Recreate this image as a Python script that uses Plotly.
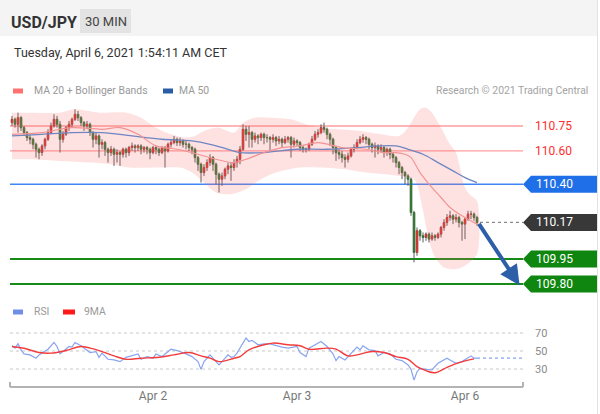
import plotly.graph_objects as go

W, H = 600, 414

# ---------------- data ----------------
first_open = 110.77
closes = [
    110.79, 110.76, 110.80, 110.74, 110.71, 110.68, 110.67, 110.64, 110.61, 110.59,
    110.63, 110.67, 110.71, 110.75, 110.79, 110.76, 110.67, 110.70, 110.74, 110.76,
    110.79, 110.82, 110.80, 110.77, 110.75, 110.76, 110.71, 110.67, 110.69, 110.64,
    110.65, 110.61, 110.59, 110.61, 110.58, 110.59, 110.58, 110.61, 110.59, 110.62,
    110.63, 110.62, 110.63, 110.61, 110.62, 110.61, 110.59, 110.62, 110.61, 110.59,
    110.62, 110.60, 110.64, 110.65, 110.67, 110.65, 110.66, 110.64, 110.64, 110.62,
    110.61, 110.56, 110.52, 110.47, 110.50, 110.53, 110.56, 110.52, 110.46, 110.43,
    110.45, 110.49, 110.51, 110.50, 110.53, 110.55, 110.61, 110.73, 110.70, 110.71,
    110.67, 110.69, 110.68, 110.70, 110.68, 110.68, 110.67, 110.68, 110.66, 110.67,
    110.65, 110.67, 110.68, 110.64, 110.66, 110.65, 110.62, 110.61, 110.61, 110.64,
    110.67, 110.70, 110.71, 110.74, 110.73, 110.70, 110.67, 110.62, 110.59, 110.58,
    110.56, 110.55, 110.57, 110.61, 110.62, 110.65, 110.67, 110.68, 110.67, 110.64,
    110.62, 110.63, 110.61, 110.62, 110.59, 110.61, 110.58, 110.56, 110.53, 110.50,
    110.47, 110.45, 110.43, 110.23, 109.99, 110.12, 110.09, 110.08, 110.10, 110.07,
    110.09, 110.08, 110.10, 110.14, 110.17, 110.20, 110.21, 110.19, 110.20, 110.17,
    110.16, 110.19, 110.22, 110.22, 110.20, 110.17,
]
highs = [
    110.81, 110.80, 110.83, 110.81, 110.75, 110.72, 110.70, 110.68, 110.65, 110.62,
    110.64, 110.68, 110.73, 110.77, 110.82, 110.81, 110.78, 110.72, 110.75, 110.78,
    110.80, 110.85, 110.84, 110.81, 110.78, 110.78, 110.77, 110.72, 110.71, 110.70,
    110.67, 110.66, 110.62, 110.63, 110.62, 110.61, 110.60, 110.62, 110.62, 110.63,
    110.65, 110.64, 110.64, 110.64, 110.63, 110.63, 110.62, 110.63, 110.63, 110.62,
    110.63, 110.63, 110.65, 110.67, 110.69, 110.68, 110.68, 110.67, 110.66, 110.65,
    110.63, 110.62, 110.57, 110.53, 110.52, 110.55, 110.58, 110.57, 110.53, 110.47,
    110.47, 110.50, 110.53, 110.53, 110.55, 110.57, 110.63, 110.76, 110.75, 110.75,
    110.72, 110.71, 110.70, 110.71, 110.71, 110.70, 110.69, 110.70, 110.69, 110.69,
    110.68, 110.69, 110.69, 110.69, 110.68, 110.67, 110.66, 110.63, 110.62, 110.65,
    110.69, 110.72, 110.73, 110.76, 110.77, 110.74, 110.71, 110.68, 110.63, 110.61,
    110.60, 110.58, 110.59, 110.62, 110.64, 110.67, 110.69, 110.70, 110.69, 110.68,
    110.65, 110.65, 110.64, 110.64, 110.63, 110.62, 110.62, 110.59, 110.57, 110.54,
    110.51, 110.48, 110.46, 110.44, 110.24, 110.14, 110.13, 110.11, 110.11, 110.11,
    110.11, 110.10, 110.11, 110.15, 110.19, 110.22, 110.24, 110.22, 110.22, 110.21,
    110.18, 110.20, 110.24, 110.24, 110.23, 110.21,
]
lows = [
    110.75, 110.74, 110.71, 110.72, 110.69, 110.66, 110.64, 110.61, 110.56, 110.55,
    110.57, 110.61, 110.66, 110.70, 110.74, 110.74, 110.59, 110.65, 110.69, 110.72,
    110.74, 110.78, 110.78, 110.75, 110.72, 110.73, 110.69, 110.62, 110.64, 110.56,
    110.61, 110.57, 110.53, 110.57, 110.51, 110.53, 110.51, 110.56, 110.56, 110.57,
    110.60, 110.59, 110.60, 110.58, 110.59, 110.58, 110.55, 110.58, 110.58, 110.57,
    110.58, 110.50, 110.59, 110.62, 110.64, 110.63, 110.63, 110.62, 110.61, 110.60,
    110.58, 110.53, 110.48, 110.41, 110.45, 110.48, 110.51, 110.48, 110.40, 110.35,
    110.39, 110.43, 110.46, 110.42, 110.48, 110.50, 110.52, 110.60, 110.66, 110.62,
    110.62, 110.65, 110.64, 110.66, 110.64, 110.65, 110.60, 110.65, 110.63, 110.64,
    110.62, 110.64, 110.65, 110.56, 110.62, 110.63, 110.60, 110.59, 110.59, 110.60,
    110.63, 110.66, 110.68, 110.70, 110.71, 110.67, 110.63, 110.58, 110.54, 110.55,
    110.53, 110.50, 110.53, 110.56, 110.59, 110.61, 110.64, 110.65, 110.64, 110.61,
    110.59, 110.56, 110.58, 110.59, 110.56, 110.57, 110.55, 110.53, 110.50, 110.46,
    110.43, 110.40, 110.39, 110.21, 109.93, 109.97, 110.06, 110.05, 110.06, 110.05,
    110.06, 110.06, 110.07, 110.08, 110.12, 110.15, 110.18, 110.16, 110.17, 110.14,
    110.06, 110.07, 110.18, 110.19, 110.18, 110.15,
]

band_upper_idx = [0, 6, 16, 21, 29, 38, 43, 48, 53, 58, 61, 64, 69, 74, 77, 81, 86, 93,
                  98, 103, 109, 116, 123, 129, 132, 134, 136, 138, 140, 143, 146, 148,
                  151, 153, 155]
band_upper = [110.83, 110.83, 110.83, 110.85, 110.83, 110.83, 110.80, 110.74, 110.70,
              110.68, 110.69, 110.72, 110.74, 110.71, 110.77, 110.80, 110.80, 110.79,
              110.76, 110.74, 110.73, 110.72, 110.70, 110.69, 110.74, 110.80, 110.85,
              110.86, 110.83, 110.74, 110.64, 110.59, 110.38, 110.33, 110.30]
band_lower_idx = [0, 6, 16, 26, 33, 39, 49, 56, 60, 64, 68, 73, 78, 83, 88, 96, 103, 111,
                  118, 124, 129, 132, 134, 135, 137, 139, 141, 144, 148, 151, 155]
band_lower = [110.55, 110.55, 110.54, 110.53, 110.52, 110.50, 110.50, 110.50, 110.47,
              110.41, 110.35, 110.34, 110.37, 110.43, 110.47, 110.50, 110.50, 110.49,
              110.47, 110.46, 110.45, 110.44, 110.43, 110.40, 110.24, 110.06, 109.96,
              109.90, 109.89, 109.91, 109.98]

ma20_idx = [0, 10, 20, 30, 36, 42, 48, 55, 62, 68, 74, 78, 84, 90, 96, 102, 110, 118,
            124, 128, 131, 133, 136, 140, 143, 146, 150, 155]
ma20 = [110.70, 110.71, 110.74, 110.73, 110.74, 110.70, 110.63, 110.61, 110.58, 110.55,
        110.53, 110.55, 110.59, 110.62, 110.63, 110.65, 110.62, 110.61, 110.59, 110.59,
        110.58, 110.56, 110.47, 110.38, 110.32, 110.26, 110.21, 110.16]

ma50_idx = [0, 10, 20, 30, 40, 50, 60, 66, 72, 76, 84, 95, 105, 115, 122, 128, 132, 137,
            142, 147, 151, 155]
ma50 = [110.69, 110.70, 110.71, 110.71, 110.69, 110.67, 110.66, 110.64, 110.61, 110.59,
        110.59, 110.61, 110.61, 110.62, 110.63, 110.63, 110.61, 110.58, 110.53, 110.48,
        110.44, 110.41]

rsi_idx = [0, 1, 2, 3, 4, 6, 8, 9, 12, 14, 15, 16, 17, 19, 20, 21, 23, 24, 26, 28, 29,
           30, 32, 34, 36, 38, 40, 42, 43, 45, 47, 48, 50, 52, 53, 55, 57, 58, 60, 62,
           63, 64, 66, 68, 69, 70, 72, 73, 74, 75, 76, 78, 79, 80, 82, 84, 86, 88, 90,
           92, 95, 96, 97, 98, 99, 101, 103, 105, 107, 108, 109, 111, 113, 115, 116, 117,
           119, 121, 122, 124, 126, 128, 130, 132, 133, 134, 135, 136, 138, 140, 142, 144,
           145, 146, 148, 150, 152, 153, 154, 155]
rsi = [55.8, 53.2, 58.0, 51.3, 46.8, 45.7, 42.0, 45.7, 52.0, 59.5, 55.0, 46.8, 49.4,
       55.0, 54.3, 59.5, 55.8, 53.2, 48.3, 49.4, 43.0, 47.6, 40.8, 40.1, 38.2, 43.0, 44.6,
       46.8, 40.8, 43.8, 42.0, 46.8, 43.8, 49.4, 52.0, 50.5, 48.3, 46.8, 43.8, 38.2, 29.6,
       38.2, 45.7, 38.2, 34.5, 38.2, 45.7, 43.0, 43.8, 47.6, 53.2, 64.4, 60.6, 61.8, 56.9,
       58.0, 58.0, 55.8, 54.3, 53.2, 55.0, 48.3, 45.7, 43.8, 53.2, 56.9, 60.6, 55.0, 46.8,
       39.3, 43.8, 40.1, 46.8, 54.3, 51.3, 55.8, 51.3, 50.5, 44.6, 48.3, 46.8, 40.8, 39.3,
       34.5, 29.6, 17.6, 27.0, 30.7, 29.6, 28.9, 36.3, 40.1, 42.0, 40.1, 36.3, 38.2, 43.0,
       44.6, 42.0, 42.0]

rsi_ma_idx = [0, 4, 9, 13, 18, 23, 26, 29, 34, 38, 43, 49, 54, 59, 63, 66, 69, 74, 76,
              79, 84, 87, 92, 96, 99, 105, 108, 112, 115, 120, 124, 128, 132, 135, 138,
              141, 145, 149, 154]
rsi_ma = [55.0, 53.0, 48.3, 47.6, 50.5, 55.0, 53.2, 50.5, 44.6, 40.8, 42.0, 43.0, 45.7,
          48.3, 44.6, 42.0, 38.2, 42.0, 43.8, 51.3, 56.9, 58.8, 56.9, 55.8, 52.0, 53.2,
          52.0, 44.6, 45.7, 49.4, 48.3, 43.8, 40.8, 32.6, 28.1, 25.9, 31.9, 37.1, 41.2]

resistance_levels = [110.75, 110.60]
pivot_level = 110.40
support_levels = [109.95, 109.80]
last_price = 110.17
rsi_levels = [70, 50, 30]
tick_idx = [47, 95, 151]
tick_text = ["Apr 2", "Apr 3", "Apr 6"]

# ---------------- helpers ----------------
def px(x):
    return x / W


def py(y):
    return 1 - y / H


idx = list(range(len(closes)))
opens = [first_open] + closes[:-1]
body_hi = [max(o, c) for o, c in zip(opens, closes)]
body_lo = [min(o, c) for o, c in zip(opens, closes)]

X_RANGE = [-0.67, 170.33]
Y_RANGE = [109.734, 110.876]
RSI_RANGE = [10, 84.44]
FONT = "Roboto"

fig = go.Figure()

# Bollinger band (closed polygon)
fig.add_trace(go.Scatter(
    x=band_upper_idx + band_lower_idx[::-1],
    y=band_upper + band_lower[::-1],
    fill="toself", fillcolor="rgba(250,110,110,0.2)",
    line=dict(width=0, shape="spline", smoothing=0.8),
    mode="lines", hoverinfo="skip", showlegend=False))

fig.add_trace(go.Scatter(x=ma50_idx, y=ma50, mode="lines",
                         line=dict(color="#6f86c2", width=1.3, shape="spline"),
                         showlegend=False))
fig.add_trace(go.Scatter(x=ma20_idx, y=ma20, mode="lines",
                         line=dict(color="#f29393", width=1.2, shape="spline"),
                         showlegend=False))

# wicks
fig.add_trace(go.Candlestick(
    x=idx, open=opens, high=highs, low=lows, close=closes,
    increasing=dict(line=dict(color="#5a5a5a", width=1), fillcolor="#5a5a5a"),
    decreasing=dict(line=dict(color="#5a5a5a", width=1), fillcolor="#5a5a5a"),
    whiskerwidth=0, showlegend=False, hoverinfo="skip"))
# bodies
fig.add_trace(go.Candlestick(
    x=idx, open=opens, high=body_hi, low=body_lo, close=closes,
    increasing=dict(line=dict(color="#e0302c", width=0.5), fillcolor="#e0302c"),
    decreasing=dict(line=dict(color="#2f7d2f", width=0.5), fillcolor="#2f7d2f"),
    whiskerwidth=0, showlegend=False))

# RSI panel
fig.add_trace(go.Scatter(x=rsi_idx, y=rsi, mode="lines", xaxis="x2", yaxis="y2",
                         line=dict(color="#88a4f0", width=1.2), showlegend=False))
fig.add_trace(go.Scatter(x=rsi_ma_idx, y=rsi_ma, mode="lines", xaxis="x2", yaxis="y2",
                         line=dict(color="#f23c3c", width=1.4, shape="spline"),
                         showlegend=False))

shapes = []
annotations = []

# header
shapes.append(dict(type="rect", xref="paper", yref="paper", x0=0, x1=px(597),
                   y0=py(36), y1=1, fillcolor="#f4f4f4", line=dict(width=0), layer="below"))
shapes.append(dict(type="rect", xref="paper", yref="paper", x0=px(80), x1=px(131),
                   y0=py(33), y1=py(9), fillcolor="#e3e3e3", line=dict(width=0), layer="below"))
shapes.append(dict(type="line", xref="paper", yref="paper", x0=px(597.5), x1=px(597.5),
                   y0=0, y1=1, line=dict(color="#e2e2e2", width=1)))
annotations += [
    dict(text="<b>USD/JPY</b>", x=px(9), y=py(22), xanchor="left", yanchor="middle",
         font=dict(family=FONT, size=16, color="#333333")),
    dict(text="30 MIN", x=px(105.5), y=py(21), xanchor="center", yanchor="middle",
         font=dict(family=FONT, size=13, color="#444444")),
    dict(text="Tuesday, April 6, 2021 1:54:11 AM CET", x=px(12), y=py(52),
         xanchor="left", yanchor="middle", font=dict(family=FONT, size=12.5, color="#333333")),
    dict(text="MA 20 + Bollinger Bands", x=px(32), y=py(91), xanchor="left",
         yanchor="middle", font=dict(family=FONT, size=10.4, color="#999999")),
    dict(text="MA 50", x=px(177), y=py(91), xanchor="left", yanchor="middle",
         font=dict(family=FONT, size=10.4, color="#999999")),
    dict(text="Research © 2021 Trading Central", x=px(590), y=py(91), xanchor="right",
         yanchor="middle", font=dict(family=FONT, size=10.4, color="#a3a3a3")),
    dict(text="RSI", x=px(32), y=py(311.5), xanchor="left", yanchor="middle",
         font=dict(family=FONT, size=10.4, color="#999999")),
    dict(text="9MA", x=px(82), y=py(311.5), xanchor="left", yanchor="middle",
         font=dict(family=FONT, size=10.4, color="#999999")),
]
# legend swatches
for x0, x1, yc, col in [(13, 23, 91, "#ff7272"), (163, 173, 91, "#2b5ca6"),
                        (13, 23, 312, "#6d8fe8"), (63, 75, 312, "#ff1a1a")]:
    shapes.append(dict(type="rect", xref="paper", yref="paper", x0=px(x0), x1=px(x1),
                       y0=py(yc + 2.5), y1=py(yc - 2.5), fillcolor=col, line=dict(width=0)))

# price levels
PL0, PL1 = px(10), px(523)
for lv in resistance_levels:
    shapes.append(dict(type="line", xref="paper", yref="y", x0=PL0, x1=PL1, y0=lv, y1=lv,
                       line=dict(color="#ff9c9c", width=1.4), layer="below"))
    annotations.append(dict(text=f"{lv:.2f}", x=px(533), y=lv, xref="paper", yref="y",
                            xanchor="left", yanchor="middle", showarrow=False,
                            font=dict(family=FONT, size=12, color="#ff2d2d")))
shapes.append(dict(type="line", xref="paper", yref="y", x0=PL0, x1=PL1, y0=pivot_level,
                   y1=pivot_level, line=dict(color="#4286f5", width=1.5), layer="below"))
for lv in support_levels:
    shapes.append(dict(type="line", xref="paper", yref="y", x0=PL0, x1=PL1, y0=lv, y1=lv,
                       line=dict(color="#178a17", width=2), layer="below"))

# last price dotted projection
shapes.append(dict(type="line", xref="x", yref="y", x0=idx[-1] + 1, x1=X_RANGE[1],
                   y0=last_price, y1=last_price,
                   line=dict(color="#8a8a8a", width=1.2, dash="dot")))

# label boxes
half = 8.5 / 166.3
for lv, col in [(pivot_level, "#1f6fe8"), (last_price, "#383838"),
                (support_levels[0], "#0f860f"), (support_levels[1], "#0f860f")]:
    path = (f"M {px(523)},{lv} L {px(531)},{lv + half} L {px(597)},{lv + half} "
            f"L {px(597)},{lv - half} L {px(531)},{lv - half} Z")
    shapes.append(dict(type="path", xref="paper", yref="y", path=path, fillcolor=col,
                       line=dict(width=0)))
    annotations.append(dict(text=f"{lv:.2f}", x=px(534), y=lv, xref="paper", yref="y",
                            xanchor="left", yanchor="middle", showarrow=False,
                            font=dict(family=FONT, size=12, color="#ffffff")))

# forecast arrow from last price to the lower target
annotations.append(dict(x=idx[-1] + 14.2, y=support_levels[1] - 0.008, xref="x", yref="y",
                        ax=idx[-1] + 0.3, ay=last_price, axref="x", ayref="y", text="",
                        showarrow=True, arrowhead=2, arrowsize=1, arrowwidth=4,
                        arrowcolor="#2d5ea8", standoff=0, startstandoff=0))

# RSI grid & labels
for lv in rsi_levels:
    shapes.append(dict(type="line", xref="paper", yref="y2", x0=PL0, x1=PL1, y0=lv, y1=lv,
                       line=dict(color="#c8c8c8", width=1, dash="dot"), layer="below"))
    annotations.append(dict(text=str(lv), x=px(533), y=lv, xref="paper", yref="y2",
                            xanchor="left", yanchor="middle", showarrow=False,
                            font=dict(family=FONT, size=11, color="#8a8a8a")))
shapes.append(dict(type="line", xref="x2", yref="y2", x0=idx[-1], x1=X_RANGE[1],
                   y0=rsi[-1], y1=rsi[-1], line=dict(color="#88a4f0", width=1.2, dash="dot")))

# x axis baseline with end caps
shapes.append(dict(type="line", xref="paper", yref="paper", x0=PL0, x1=PL1,
                   y0=py(387), y1=py(387), line=dict(color="#b3b3b3", width=2)))
for xx in (10, 523):
    shapes.append(dict(type="line", xref="paper", yref="paper", x0=px(xx), x1=px(xx),
                       y0=py(387), y1=py(382), line=dict(color="#b3b3b3", width=2)))

for a in annotations:
    a.setdefault("xref", "paper")
    a.setdefault("yref", "paper")
    a.setdefault("showarrow", False)

fig.update_layout(
    width=W, height=H, autosize=False,
    margin=dict(l=0, r=0, t=0, b=0, pad=0),
    paper_bgcolor="white", plot_bgcolor="rgba(0,0,0,0)",
    font=dict(family=FONT),
    showlegend=False,
    xaxis=dict(domain=[PL0, PL1], range=X_RANGE, visible=False, anchor="y",
               rangeslider=dict(visible=False), fixedrange=True),
    yaxis=dict(domain=[py(295), py(105)], range=Y_RANGE, visible=False, anchor="x"),
    xaxis2=dict(domain=[PL0, PL1], range=X_RANGE, anchor="y2", showgrid=False,
                zeroline=False, showline=False, ticks="", tickvals=tick_idx,
                ticktext=tick_text, tickfont=dict(family=FONT, size=12, color="#777777"),
                rangeslider=dict(visible=False)),
    yaxis2=dict(domain=[py(387), py(320)], range=RSI_RANGE, visible=False, anchor="x2"),
    shapes=shapes, annotations=annotations,
)

fig.write_html("out.html", config={"displayModeBar": False},
               post_script="document.body.style.margin='0px';")
